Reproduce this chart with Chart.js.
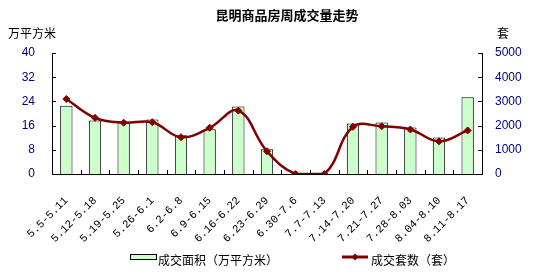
<!DOCTYPE html>
<html><head><meta charset="utf-8">
<script src="https://cdn.jsdelivr.net/npm/chart.js@4/dist/chart.umd.min.js"></script>
<style>html,body{margin:0;padding:0;background:#fff}#wrap{width:535px;height:274px;position:relative}</style>
</head><body><div id="wrap"><canvas id="c" width="535" height="274"></canvas></div>
<script>
const categories = ["5.5-5.11","5.12-5.18","5.19-5.25","5.26-6.1","6.2-6.8","6.9-6.15","6.16-6.22","6.23-6.29","6.30-7.6","7.7-7.13","7.14-7.20","7.21-7.27","7.28-8.03","8.04-8.10","8.11-8.17"];
const areaValues = [22.6,17.7,17.0,18.0,12.8,14.8,22.3,8.2,0,0,16.7,17.0,15.4,12.1,25.4];
const unitValues = [3100,2320,2120,2140,1520,1910,2620,940,0,0,1950,1970,1840,1350,1800];
const leftTicks = [0,8,16,24,32,40];
const rightTicks = [0,1000,2000,3000,4000,5000];
const titleText = "昆明商品房周成交量走势";
const seriesNames = ["成交面积（万平方米）","成交套数（套）"];
const leftUnit = "万平方米", rightUnit = "套";

const CJK = '"Noto Sans CJK SC", sans-serif';
const decor = {
  id:'decor',
  afterDraw(chart){
    const ctx = chart.ctx, ca = chart.chartArea;
    const x = chart.scales.x, yl = chart.scales.y, yr = chart.scales.y1;
    ctx.save();
    ctx.strokeStyle = '#000'; ctx.lineWidth = 1;
    ctx.beginPath();
    leftTicks.forEach(v=>{const p=Math.round(yl.getPixelForValue(v))+0.5; ctx.moveTo(ca.left,p); ctx.lineTo(ca.left+4,p);});
    rightTicks.forEach(v=>{const p=Math.round(yr.getPixelForValue(v))+0.5; ctx.moveTo(ca.right,p); ctx.lineTo(ca.right-4,p);});
    const n = categories.length;
    for(let i=1;i<n;i++){
      const p = Math.round((x.getPixelForValue(i-1)+x.getPixelForValue(i))/2)+0.5;
      ctx.moveTo(p,ca.bottom); ctx.lineTo(p,ca.bottom-4);
    }
    ctx.stroke();
    ctx.fillStyle = '#000';
    ctx.textBaseline = 'middle';
    ctx.textAlign = 'center';
    ctx.font = 'bold 13px ' + CJK;
    ctx.fillText(titleText, 287, 15);
    ctx.font = '12px ' + CJK;
    ctx.textAlign = 'left';
    ctx.fillText(leftUnit, 8, 33);
    ctx.fillText(rightUnit, 497, 33);
    ctx.fillStyle = '#CCFFCC';
    ctx.fillRect(130.5,254.5,26,5);
    ctx.strokeRect(130.5,254.5,26,5);
    ctx.fillStyle = '#000';
    ctx.fillText(seriesNames[0], 158, 260);
    ctx.strokeStyle = '#800000'; ctx.lineWidth = 3;
    ctx.beginPath(); ctx.moveTo(342,257); ctx.lineTo(368,257); ctx.stroke();
    ctx.fillStyle = '#800000';
    ctx.beginPath(); ctx.moveTo(355,253.5); ctx.lineTo(358.5,257); ctx.lineTo(355,260.5); ctx.lineTo(351.5,257); ctx.closePath(); ctx.fill();
    ctx.fillStyle = '#000';
    ctx.fillText(seriesNames[1], 371, 260);
    ctx.restore();
  }
};

new Chart(document.getElementById('c'), {
  data: {
    labels: categories,
    datasets: [
      { type:'line', label: seriesNames[1], data: unitValues, yAxisID:'y1',
        borderColor:'#800000', backgroundColor:'#800000', borderWidth:2.5,
        pointStyle:'rectRot', pointRadius:3.5, pointBackgroundColor:'#800000', pointBorderColor:'#800000', pointBorderWidth:1,
        tension:0.4, order:0 },
      { type:'bar', label: seriesNames[0], data: areaValues, yAxisID:'y',
        backgroundColor:'#CCFFCC', borderColor:'#000', borderWidth:1,
        categoryPercentage:1, barPercentage:0.43, order:1 }
    ]
  },
  options: {
    responsive:false, animation:false, devicePixelRatio:1,
    layout:{ padding:{ top:53, left:0, right:0, bottom:0 } },
    plugins:{ legend:{display:false}, title:{display:false}, tooltip:{enabled:false} },
    scales:{
      x:{ offset:true,
        grid:{ display:false, drawTicks:false },
        border:{ display:true, color:'#000', width:1 },
        ticks:{ autoSkip:false, maxRotation:45, minRotation:45, padding:20, color:'#000',
          font:{ family:'"Liberation Mono", monospace', size:11 } },
        afterFit(s){ s.height = 100; }
      },
      y:{ position:'left', min:0, max:40,
        afterBuildTicks(s){ s.ticks = leftTicks.map(v=>({value:v})); },
        grid:{ display:false, drawTicks:false },
        border:{ display:true, color:'#000', width:1 },
        ticks:{ padding:17, color:'#000080', callback:v=>String(v), font:{ family:'"Liberation Sans", Arial, sans-serif', size:12 } },
        afterFit(s){ s.width = 52; }
      },
      y1:{ position:'right', min:0, max:5000,
        afterBuildTicks(s){ s.ticks = rightTicks.map(v=>({value:v})); },
        grid:{ display:false, drawTicks:false },
        border:{ display:true, color:'#000', width:1 },
        ticks:{ padding:13, color:'#000080', callback:v=>String(v), font:{ family:'"Liberation Sans", Arial, sans-serif', size:12 } },
        afterFit(s){ s.width = 53; }
      }
    }
  },
  plugins:[decor]
});
</script></body></html>
